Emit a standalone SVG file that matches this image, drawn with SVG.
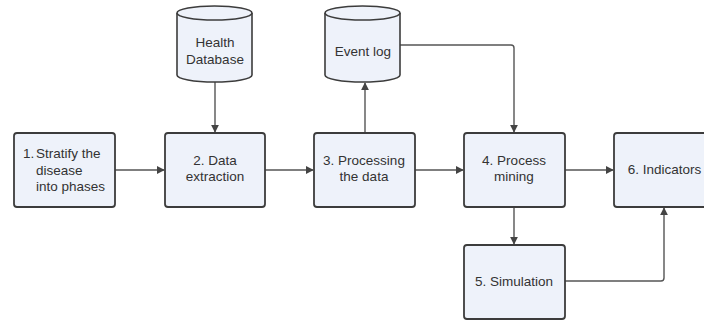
<svg xmlns="http://www.w3.org/2000/svg" width="704" height="320" viewBox="0 0 704 320">
  <style>
    .box { fill: #eef2fa; stroke: #3c3c3c; stroke-width: 1.8; }
    .cyl { fill: #eef2fa; stroke: #3c3c3c; stroke-width: 1.6; }
    .lbl { font-family: "Liberation Sans", Arial, sans-serif; font-size: 13.5px; fill: #333; }
    .c { text-anchor: middle; }
    .edge { fill: none; stroke: #555; stroke-width: 1.4; }
  </style>
  <defs>
    <marker id="arrow" viewBox="0 0 10 10" refX="9" refY="5" markerWidth="8" markerHeight="8" markerUnits="userSpaceOnUse" orient="auto">
      <path d="M0,0 L10,5 L0,10 z" fill="#444"/>
    </marker>
  </defs>

  <rect width="704" height="320" fill="#ffffff"/>

  <!-- connectors -->
  <g id="connectors">
    <path class="edge" d="M115,170 H164" marker-end="url(#arrow)"/>
    <path class="edge" d="M215,82 V132" marker-end="url(#arrow)"/>
    <path class="edge" d="M265,170 H313" marker-end="url(#arrow)"/>
    <path class="edge" d="M365,133 V83" marker-end="url(#arrow)"/>
    <path class="edge" d="M400,45 H511 Q514,45 514,48 V132" marker-end="url(#arrow)"/>
    <path class="edge" d="M415,170 H463" marker-end="url(#arrow)"/>
    <path class="edge" d="M514,207 V244" marker-end="url(#arrow)"/>
    <path class="edge" d="M565,170 H613" marker-end="url(#arrow)"/>
    <path class="edge" d="M565,281 H661 Q664,281 664,278 V208" marker-end="url(#arrow)"/>
  </g>

  <!-- data stores -->
  <g id="health-db">
    <path class="cyl" d="M177,13 V75 A37.5,7 0 0 0 252,75 V13 A37.5,7 0 0 0 177,13 Z"/>
    <path class="cyl" d="M177,13 A37.5,7 0 0 0 252,13"/>
    <text class="lbl c" x="215" y="47">Health</text>
    <text class="lbl c" x="215" y="64">Database</text>
  </g>
  <g id="event-log">
    <path class="cyl" d="M325,13 V75 A37.5,7 0 0 0 400,75 V13 A37.5,7 0 0 0 325,13 Z"/>
    <path class="cyl" d="M325,13 A37.5,7 0 0 0 400,13"/>
    <text class="lbl c" x="363" y="56">Event log</text>
  </g>

  <!-- process steps -->
  <g id="step1">
    <rect class="box" x="14" y="133" width="101" height="74" rx="3"/>
    <text class="lbl" x="23" y="158">1.</text>
    <text class="lbl" x="36" y="158">Stratify the</text>
    <text class="lbl" x="36" y="175">disease</text>
    <text class="lbl" x="36" y="191">into phases</text>
  </g>
  <g id="step2">
    <rect class="box" x="165" y="133" width="100" height="74" rx="3"/>
    <text class="lbl c" x="215" y="165">2. Data</text>
    <text class="lbl c" x="215" y="181">extraction</text>
  </g>
  <g id="step3">
    <rect class="box" x="314" y="133" width="101" height="74" rx="3"/>
    <text class="lbl c" x="364" y="165">3. Processing</text>
    <text class="lbl c" x="364" y="181">the data</text>
  </g>
  <g id="step4">
    <rect class="box" x="464" y="133" width="101" height="74" rx="3"/>
    <text class="lbl c" x="514" y="165">4. Process</text>
    <text class="lbl c" x="514" y="181">mining</text>
  </g>
  <g id="step5">
    <rect class="box" x="464" y="245" width="101" height="74" rx="3"/>
    <text class="lbl c" x="514" y="286">5. Simulation</text>
  </g>
  <g id="step6">
    <rect class="box" x="614" y="133" width="101" height="74" rx="3"/>
    <text class="lbl c" x="664.5" y="174">6. Indicators</text>
  </g>
</svg>
